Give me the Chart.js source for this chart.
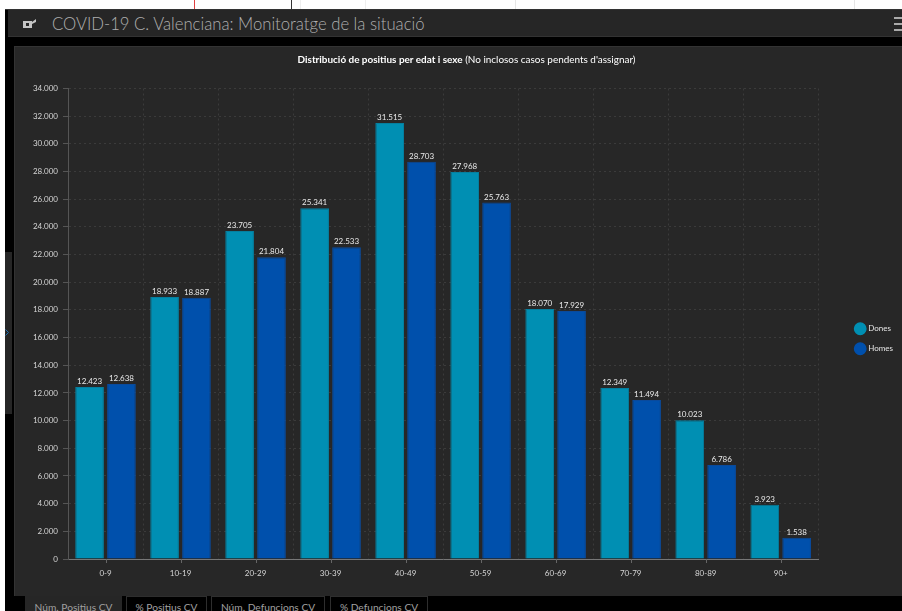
<!DOCTYPE html>
<html><head><meta charset="utf-8">
<script src="https://cdn.jsdelivr.net/npm/chart.js@4/dist/chart.umd.min.js"></script>
<style>
html,body{margin:0;padding:0;width:902px;height:611px;overflow:hidden;background:#fff;font-family:Lato,sans-serif}
.a{position:absolute;box-sizing:border-box}
#bg{left:5px;top:9px;width:897px;height:602px;background:#000;border-top:1px solid #333}
#head{left:8px;top:10px;width:894px;height:27px;background:#262626;border-bottom:1px solid #333}
#htitle{left:52px;top:13px;color:#b0b0b0;font-size:16.7px;font-weight:300;line-height:22px;white-space:nowrap}
#panel{left:14px;top:46px;width:888px;height:550px;background:#272727;border-top:1px solid #333;border-left:1px solid #333}
#title{left:14px;top:53px;width:905px;text-align:center;color:#fff;font-size:9.95px;line-height:13px;white-space:nowrap}
#title b{font-weight:700}
#side{left:5px;top:252px;width:7px;height:162px;background:#262626}
.tab{top:596px;height:15px;color:#a0a0a0;font-size:10.2px;line-height:20px;text-align:center;border:1px solid #2e2e2e;border-bottom:0;white-space:nowrap}
#cv{position:absolute;left:14px;top:45px}
.m{position:absolute;top:0;width:1px;height:9px}
.b{position:absolute;left:894px;width:8px;height:1.5px;background:#aaa}
</style></head><body>
<div class="m" style="left:194px;background:#e04040"></div>
<div class="m" style="left:291px;background:#333"></div>
<div class="m" style="left:300px;background:#eee"></div>
<div class="m" style="left:365px;background:#eee"></div>
<div class="m" style="left:515px;background:#e6e6e6"></div>
<div class="m" style="left:854px;background:#e6e6e6"></div>
<div class="a" id="bg"></div>
<div class="a" id="head"></div>
<svg class="a" style="left:23px;top:19px" width="14" height="10" viewBox="0 0 14 10"><path d="M0 2h9v7H0zM9 3l4-3v3l-4 2zM3 4h3v3H3z" fill="#c4c4c4" fill-rule="evenodd"/></svg>
<div class="a" id="htitle">COVID-19 C. Valenciana: Monitoratge de la situació</div>
<div class="b" style="top:17px"></div><div class="b" style="top:23px"></div><div class="b" style="top:29px"></div>
<div class="a" id="side"></div>
<svg class="a" style="left:5px;top:329px" width="4" height="7" viewBox="0 0 4 7"><path d="M.5 .5l3 3-3 3" fill="none" stroke="#1f6fb0"/></svg>
<div class="a" id="panel"></div>
<canvas id="cv" width="888" height="550"></canvas>
<div class="a" id="title"><b>Distribució de positius per edat i sexe</b> (No inclosos casos pendents d'assignar)</div>
<div class="a tab" style="left:25px;width:97px;background:#262626;border-color:#262626">Núm. Positius CV</div>
<div class="a tab" style="left:126px;width:81px">% Positius CV</div>
<div class="a tab" style="left:211px;width:114px">Núm. Defuncions CV</div>
<div class="a tab" style="left:330px;width:98px">% Defuncions CV</div>
<script>
const categories=['0-9','10-19','20-29','30-39','40-49','50-59','60-69','70-79','80-89','90+'];
const dones=[12423,18933,23705,25341,31515,27968,18070,12349,10023,3923];
const homes=[12638,18887,21804,22533,28703,25763,17929,11494,6786,1538];
const seriesNames=['Dones','Homes'];
const seriesColors=['#008fb3','#0050ac'];
const seriesEdges=['#057f9f','#0a4a9c'];
const fmt=v=>String(v).replace(/\B(?=(\d{3})+$)/g,'.');
const FONT='Lato, sans-serif';
const valueLabels={id:'valueLabels',afterDatasetsDraw(c){
  const x=c.ctx;x.save();x.font='8px '+FONT;x.fillStyle='#eaeaea';x.textAlign='center';x.textBaseline='bottom';
  c.data.datasets.forEach((d,i)=>c.getDatasetMeta(i).data.forEach((e,j)=>x.fillText(fmt(d.data[j]),e.x,e.y-1.5)));
  x.restore();}};
const centerTicks={id:'centerTicks',afterDraw(c){
  const s=c.scales.x,x=c.ctx;x.save();x.strokeStyle='#666';x.beginPath();
  categories.forEach((_,i)=>{const p=Math.round(s.getPixelForValue(i))+.5;x.moveTo(p,s.top);x.lineTo(p,s.top+4);});
  x.stroke();x.restore();}};
const legendShift={id:'legendShift',afterLayout(c){const l=c.legend;const d=26;l.left+=d;l.right+=d;l.top-=3;l.bottom-=3;}};
new Chart(document.getElementById('cv'),{type:'bar',
 data:{labels:categories,datasets:[
  {label:seriesNames[0],data:dones,backgroundColor:seriesColors[0],borderColor:seriesEdges[0],borderWidth:1},
  {label:seriesNames[1],data:homes,backgroundColor:seriesColors[1],borderColor:seriesEdges[1],borderWidth:1}]},
 plugins:[valueLabels,centerTicks,legendShift],
 options:{responsive:false,animation:false,
  layout:{padding:{top:43.5,right:25,bottom:0,left:0}},
  datasets:{bar:{categoryPercentage:.85,barPercentage:.9}},
  plugins:{title:{display:false},tooltip:{enabled:false},
   legend:{position:'right',labels:{usePointStyle:true,pointStyle:'circle',padding:12,color:'#e6e6e6',font:{family:FONT,size:8},
    generateLabels(c){return seriesNames.map((n,i)=>({text:n,fillStyle:seriesColors[i],strokeStyle:seriesColors[i],lineWidth:1.5,pointStyle:'circle',datasetIndex:i,fontColor:'#e6e6e6'}));}}}},
  scales:{
   x:{afterFit(s){s.height=36;},
    grid:{offset:true,drawTicks:false,color:'#3b3b3b'},border:{color:'#777',dash:[2,3]},
    ticks:{color:'#d5d5d5',font:{family:FONT,size:8},padding:10,maxRotation:0}},
   y:{min:0,max:34000,afterFit(s){s.width=54;},
    grid:{color:'#3b3b3b',tickLength:5,tickColor:'#555'},border:{color:'#555',dash:[2,3]},
    ticks:{stepSize:2000,autoSkip:false,color:'#d5d5d5',font:{family:FONT,size:8},padding:5,callback:v=>fmt(v)}}
  }}});
</script></body></html>
